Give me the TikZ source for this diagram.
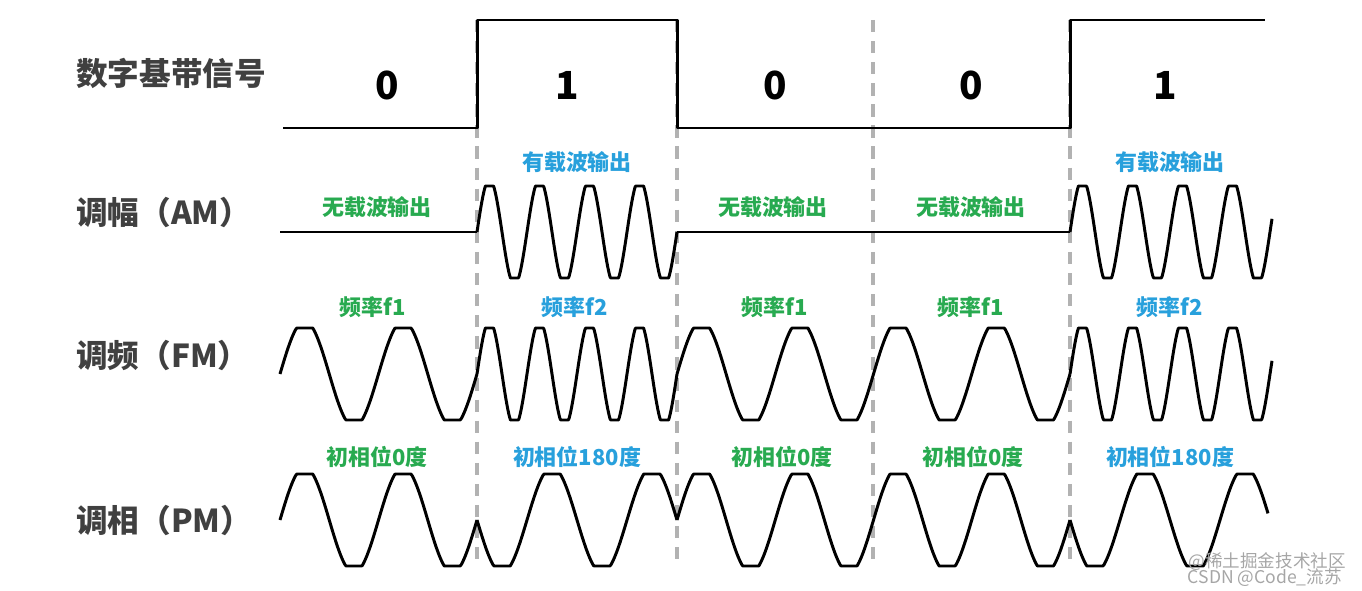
\documentclass[tikz,border=0pt]{standalone}
\usepackage{fontspec}
\setmainfont{Noto Sans CJK SC}
\begin{document}
\begin{tikzpicture}[x=0.02cm,y=-0.02cm,
  wave/.style={line width=1.7pt,line join=round},
  grid/.style={gray!60,line width=1.8pt,dash pattern=on 7pt off 5pt},
  side/.style={font=\fontsize{18}{20}\selectfont\bfseries,text=black!75},
  bit/.style={font=\fontsize{22}{24}\selectfont\bfseries},
  g/.style={font=\fontsize{12.5}{14}\selectfont\bfseries,text={rgb,255:red,40;green,170;blue,80}},
  b/.style={font=\fontsize{12.5}{14}\selectfont\bfseries,text={rgb,255:red,40;green,160;blue,220}}]
\useasboundingbox (0,0) rectangle (1362,591);
% dashed grid
\foreach \xx/\n in {477/a,677/b,873/c,1070/d}{
  \coordinate (t\n) at (\xx,20); \coordinate (u\n) at (\xx,565);
  \draw[grid] (t\n) -- (u\n);}
% digital signal
\draw[wave] (283,128) -- (477,128) -- (477,20) -- (677,20) -- (677,128) -- (1070,128) -- (1070,20) -- (1265,20);
\node[bit] (b1) at (387,85) {0};
\node[bit] (b2) at (567,85) {1};
\node[bit] (b3) at (775,85) {0};
\node[bit] (b4) at (971,85) {0};
\node[bit] (b5) at (1165,85) {1};
% side labels
\node[side,anchor=west] (l1) at (70,73) {数字基带信号};
\node[side,anchor=west] (l2) at (70,212) {调幅（AM）};
\node[side,anchor=west] (l3) at (70,355) {调频（FM）};
\node[side,anchor=west] (l4) at (70,520) {调相（PM）};
% AM
\draw[wave] (280,232) -- (477,232);
\draw[wave] plot[domain=477:677,samples=240] (\x,{232-46*max(-1,min(1,1.15*sin(7.2*(\x-477))))});
\draw[wave] (677,232) -- (1070,232);
\draw[wave] plot[domain=1070:1272,samples=240] (\x,{232-46*max(-1,min(1,1.15*sin(7.2*(\x-1070))))});
\node[g] (am1) at (377,207) {无载波输出};
\node[b] (am2) at (577,162) {有载波输出};
\node[g] (am3) at (773,207) {无载波输出};
\node[g] (am4) at (971,207) {无载波输出};
\node[b] (am5) at (1170,162) {有载波输出};
% FM
\draw[wave] plot[domain=280:477,samples=200] (\x,{374-46*max(-1,min(1,1.15*sin(3.655*(\x-280))))});
\draw[wave] plot[domain=477:677,samples=240] (\x,{374-46*max(-1,min(1,1.15*sin(7.2*(\x-477))))});
\draw[wave] plot[domain=677:1070,samples=400] (\x,{374-46*max(-1,min(1,1.15*sin(3.664*(\x-677))))});
\draw[wave] plot[domain=1070:1272,samples=240] (\x,{374-46*max(-1,min(1,1.15*sin(7.2*(\x-1070))))});
\node[g] (fm1) at (373,307) {频率f1};
\node[b] (fm2) at (575,307) {频率f2};
\node[g] (fm3) at (775,307) {频率f1};
\node[g] (fm4) at (971,307) {频率f1};
\node[b] (fm5) at (1170,307) {频率f2};
% PM
\draw[wave] plot[domain=280:477,samples=200] (\x,{520-46*max(-1,min(1,1.15*sin(3.655*(\x-280))))});
\draw[wave] plot[domain=477:677,samples=200] (\x,{520+46*max(-1,min(1,1.15*sin(3.6*(\x-477))))});
\draw[wave] plot[domain=677:1070,samples=400] (\x,{520-46*max(-1,min(1,1.15*sin(3.664*(\x-677))))});
\draw[wave] plot[domain=1070:1268,samples=200] (\x,{520+46*max(-1,min(1,1.15*sin(3.6*(\x-1070))))});
\node[g] (pm1) at (377,457) {初相位0度};
\node[b] (pm2) at (577,457) {初相位180度};
\node[g] (pm3) at (782,457) {初相位0度};
\node[g] (pm4) at (973,457) {初相位0度};
\node[b] (pm5) at (1170,457) {初相位180度};
% watermark text
\node[font=\fontsize{10}{11}\selectfont,text=gray!70,anchor=east] (w1) at (1352,562) {@稀土掘金技术社区};
\node[font=\fontsize{10}{11}\selectfont,text=gray!70,anchor=east] (w2) at (1348,578) {CSDN @Code\_流苏};
\end{tikzpicture}
\end{document}
